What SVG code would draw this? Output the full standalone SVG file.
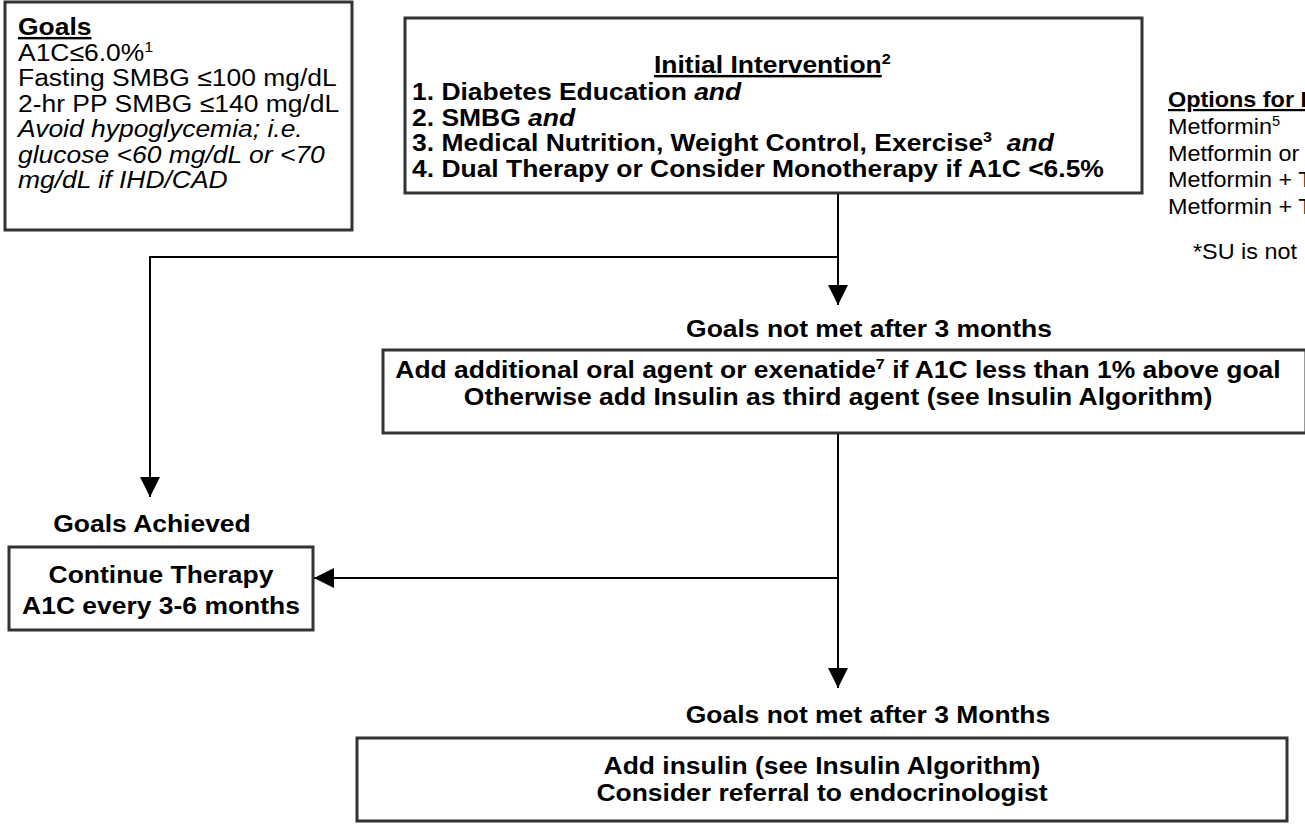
<svg xmlns="http://www.w3.org/2000/svg" width="1305" height="824" viewBox="0 0 1305 824">
<defs>
<style>
.box{fill:#fff;stroke:#333;stroke-width:3}
.t{font-family:"Liberation Sans",Arial,sans-serif;font-size:24.5px;fill:#000}
.o{font-family:"Liberation Sans",Arial,sans-serif;font-size:22.5px;fill:#000}
.b{font-weight:bold}
.i{font-style:italic}
.c{text-anchor:middle}
.ln{fill:none;stroke:#000;stroke-width:2}
</style>
<marker id="ah" markerWidth="22" markerHeight="20" refX="20" refY="10" orient="auto" markerUnits="userSpaceOnUse">
<path d="M0,0 L20,10 L0,20 Z" fill="#000"/>
</marker>
</defs>
<rect width="1305" height="824" fill="#fff"/>

<g id="connectors">
<path class="ln" d="M838,193 V305" marker-end="url(#ah)"/>
<path class="ln" d="M838,257 H150 V497" marker-end="url(#ah)"/>
<path class="ln" d="M838,433 V688" marker-end="url(#ah)"/>
<path class="ln" d="M838,578 H314" marker-end="url(#ah)"/>
</g>

<g id="goals">
<rect class="box" x="5" y="2" width="347" height="228"/>
<text class="t b" transform="translate(18 35) scale(1.08 1)" text-decoration="underline">Goals</text>
<text class="t" transform="translate(18 60.5) scale(1.08 1)">A1C≤6.0%<tspan font-size="15" dy="-9">1</tspan></text>
<text class="t" transform="translate(18 86) scale(1.08 1)">Fasting SMBG ≤100 mg/dL</text>
<text class="t" transform="translate(18 111.5) scale(1.08 1)">2-hr PP SMBG ≤140 mg/dL</text>
<text class="t i" transform="translate(18 137) scale(1.08 1)">Avoid hypoglycemia; i.e.</text>
<text class="t i" transform="translate(18 162.5) scale(1.08 1)">glucose &lt;60 mg/dL or &lt;70</text>
<text class="t i" transform="translate(18 188) scale(1.08 1)">mg/dL if IHD/CAD</text>
</g>

<g id="initial">
<rect class="box" x="405" y="18" width="737" height="175"/>
<text class="t b" transform="translate(654 73) scale(1.08 1)"><tspan text-decoration="underline">Initial Intervention</tspan><tspan font-size="15" dy="-9">2</tspan></text>
<text class="t b" transform="translate(412 100) scale(1.08 1)">1. Diabetes Education <tspan class="i">and</tspan></text>
<text class="t b" transform="translate(412 125.5) scale(1.08 1)">2. SMBG <tspan class="i">and</tspan></text>
<text class="t b" transform="translate(412 151) scale(1.08 1)">3. Medical Nutrition, Weight Control, Exercise<tspan font-size="15" dy="-9">3</tspan><tspan dy="9" xml:space="preserve">  </tspan><tspan class="i">and</tspan></text>
<text class="t b" transform="translate(412 176.5) scale(1.08 1)">4. Dual Therapy or Consider Monotherapy if A1C &lt;6.5%</text>
</g>

<g id="options">
<text class="o b" transform="translate(1168 107) scale(1.04 1)" text-decoration="underline">Options for D</text>
<text class="o" transform="translate(1168 134) scale(1.04 1)">Metformin<tspan font-size="14" dy="-8">5</tspan></text>
<text class="o" transform="translate(1168 161) scale(1.04 1)">Metformin or</text>
<text class="o" transform="translate(1168 187) scale(1.04 1)">Metformin + T</text>
<text class="o" transform="translate(1168 214) scale(1.04 1)">Metformin + T</text>
<text class="o" transform="translate(1193 259) scale(1.04 1)">*SU is not</text>
</g>

<g id="notmet1">
<text class="t b c" transform="translate(869 337) scale(1.08 1)">Goals not met after 3 months</text>
</g>

<g id="additional">
<rect class="box" x="383" y="350" width="923" height="83"/>
<text class="t b c" transform="translate(838 378) scale(1.08 1)">Add additional oral agent or exenatide<tspan font-size="15" dy="-9">7</tspan><tspan dy="9"> if A1C less than 1% above goal</tspan></text>
<text class="t b c" transform="translate(838 405) scale(1.08 1)">Otherwise add Insulin as third agent (see Insulin Algorithm)</text>
</g>

<g id="achieved">
<text class="t b c" transform="translate(152 532) scale(1.08 1)">Goals Achieved</text>
</g>

<g id="continue">
<rect class="box" x="9" y="547" width="304" height="83"/>
<text class="t b c" transform="translate(161 583) scale(1.08 1)">Continue Therapy</text>
<text class="t b c" transform="translate(161 614) scale(1.08 1)">A1C every 3-6 months</text>
</g>

<g id="notmet2">
<text class="t b c" transform="translate(868 723) scale(1.08 1)">Goals not met after 3 Months</text>
</g>

<g id="insulin">
<rect class="box" x="357" y="738" width="930" height="83"/>
<text class="t b c" transform="translate(822 774) scale(1.08 1)">Add insulin (see Insulin Algorithm)</text>
<text class="t b c" transform="translate(822 801) scale(1.08 1)">Consider referral to endocrinologist</text>
</g>
</svg>
